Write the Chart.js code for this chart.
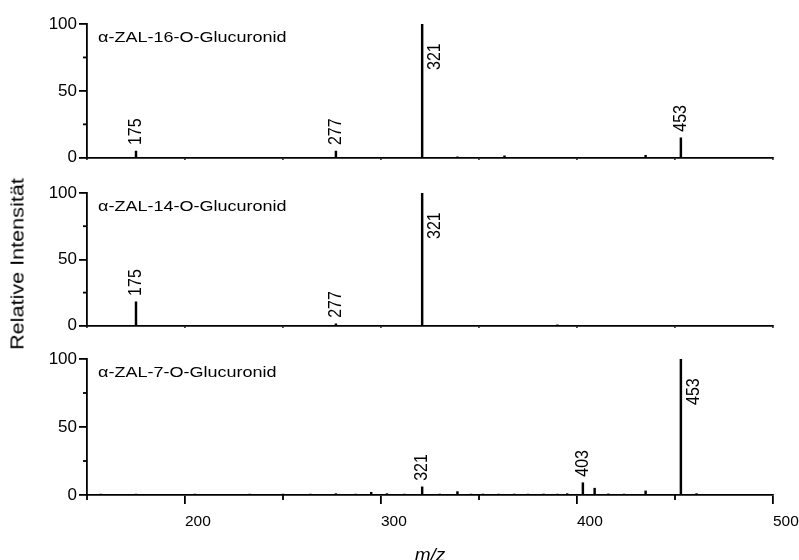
<!DOCTYPE html>
<html>
<head>
<meta charset="utf-8">
<script src="https://cdn.jsdelivr.net/npm/chart.js@4.4.1/dist/chart.umd.min.js"></script>
<style>
  html, body { margin: 0; padding: 0; background: #fff; overflow: hidden; }
  #wrap { position: relative; width: 799px; height: 560px; overflow: hidden; background: #fff; }
  canvas { position: absolute; left: 0; }
  #ylab {
    position: absolute; left: 18px; top: 264px;
    transform: translate(-50%, -50%) rotate(-90deg) scaleX(1.2);
    white-space: nowrap; line-height: 1;
    font: 18px "Liberation Sans", Arial, sans-serif; color: #000;
  }
</style>
</head>
<body>
<div id="wrap">
  <canvas id="c1" width="799" height="170" style="top:0px"></canvas>
  <canvas id="c2" width="799" height="168" style="top:170px"></canvas>
  <canvas id="c3" width="799" height="240" style="top:330px"></canvas>
  <div id="ylab">Relative Intensität</div>
</div>
<script>
// axis ticks
const xTicks = [150, 200, 250, 300, 350, 400, 450, 500];
const xMajor = [200, 300, 400, 500];
const yTicks = [0, 50, 100];
const yMinor = [25, 75];

// panel names
const names = ['α-ZAL-16-O-Glucuronid', 'α-ZAL-14-O-Glucuronid', 'α-ZAL-7-O-Glucuronid'];

// alpha-ZAL-16-O-glucuronide
const mz16 = [175, 277, 321, 339, 363, 435, 453];
const int16 = [5, 5, 100, 0.8, 1.5, 1.8, 15];
const lab16 = [175, 277, 321, 453];

// alpha-ZAL-14-O-glucuronide
const mz14 = [175, 277, 321, 390];
const int14 = [18, 1.5, 100, 0.6];
const lab14 = [175, 277, 321];

// alpha-ZAL-7-O-glucuronide
const mz7 = [157, 175, 205, 233, 250, 264, 277, 287, 295, 303, 312, 321, 330, 339, 346, 352, 360, 368, 375, 383, 390, 395, 403, 409, 416, 424, 435, 453, 461];
const int7 = [0.6, 0.6, 0.5, 0.6, 0.5, 0.6, 1, 0.6, 2, 1, 0.6, 6, 0.7, 2.5, 0.6, 0.7, 0.6, 0.7, 0.6, 0.7, 0.6, 1, 9, 5, 0.8, 0.7, 3, 100, 1];
const lab7 = [321, 403, 453];

const FONT = '"Liberation Sans", Arial, sans-serif';
Chart.defaults.font.family = FONT;
Chart.defaults.color = '#000';

const spectrumDecor = {
  id: 'spectrumDecor',
  afterDraw(chart, args, opts) {
    const { ctx, chartArea, scales: { x, y } } = chart;
    ctx.save();
    ctx.strokeStyle = '#000';
    ctx.lineWidth = 1.8;
    // minor y ticks
    yMinor.forEach(v => {
      const py = y.getPixelForValue(v);
      ctx.beginPath(); ctx.moveTo(chartArea.left - 4, py); ctx.lineTo(chartArea.left, py); ctx.stroke();
    });
    // minor x ticks on the bottom panel
    if (opts.minorX) {
      xTicks.filter(v => !xMajor.includes(v)).forEach(v => {
        const px = x.getPixelForValue(v);
        ctx.beginPath(); ctx.moveTo(px, chartArea.bottom); ctx.lineTo(px, chartArea.bottom + 5); ctx.stroke();
      });
    }
    ctx.fillStyle = '#000';
    // panel name
    ctx.font = '15px ' + FONT;
    ctx.textBaseline = 'alphabetic';
    ctx.textAlign = 'left';
    ctx.save();
    ctx.translate(chartArea.left + 11, chartArea.top + 18);
    ctx.scale(1.2, 1);
    ctx.fillText(opts.name, 0, 0);
    ctx.restore();
    // peak labels
    const pts = chart.data.datasets[0].data;
    ctx.font = '16px ' + FONT;
    opts.labels.forEach(m => {
      const pt = pts.find(d => d.x === m);
      const px = x.getPixelForValue(m);
      const py = y.getPixelForValue(pt.y);
      ctx.save();
      if (pt.y > 60) {
        ctx.translate(px + 3, chartArea.top + 46);
        ctx.rotate(-Math.PI / 2);
        ctx.scale(1, 1.2);
        ctx.textBaseline = 'top';
      } else {
        ctx.translate(px, py - 6);
        ctx.rotate(-Math.PI / 2);
        ctx.scale(1, 1.2);
        ctx.textBaseline = 'middle';
      }
      ctx.textAlign = 'left';
      ctx.fillText(String(m), 0, 0);
      ctx.restore();
    });
    ctx.restore();
  }
};

function makeSpectrum(id, mz, ints, labels, name, isBottom, padTop, xHeight) {
  return new Chart(document.getElementById(id), {
    type: 'bar',
    data: {
      datasets: [{
        data: mz.map((m, i) => ({ x: m, y: ints[i] })),
        backgroundColor: '#000',
        borderWidth: 0,
        barThickness: 1.8
      }]
    },
    options: {
      responsive: false,
      animation: false,
      layout: { padding: { top: padTop, right: 26, left: 0, bottom: 0 } },
      plugins: {
        legend: { display: false },
        tooltip: { enabled: false },
        spectrumDecor: { name: name, labels: labels, minorX: isBottom }
      },
      scales: {
        x: {
          type: 'linear', min: 150, max: 500, offset: false,
          afterBuildTicks: s => { s.ticks = xTicks.map(v => ({ value: v })); },
          afterFit: s => { s.height = xHeight; s.paddingRight = 0; },
          border: { display: true, color: '#000', width: 1.8 },
          grid: {
            drawOnChartArea: false, offset: false, color: '#000', lineWidth: 1.8,
            tickLength: isBottom ? 9 : 2,
            tickColor: c => (isBottom && c.tick && !xMajor.includes(c.tick.value)) ? 'rgba(0,0,0,0)' : '#000'
          },
          ticks: {
            display: isBottom, autoSkip: false, maxRotation: 0, color: '#000', padding: 8,
            align: 'start',
            font: { size: 15.5 },
            callback: v => xMajor.includes(v) ? String(v) : ''
          },
          title: {
            display: isBottom, text: 'm/z', color: '#000',
            font: { size: 19, style: 'italic' }, padding: { top: 0, bottom: 3 }
          }
        },
        y: {
          min: 0, max: 100,
          afterBuildTicks: s => { s.ticks = yTicks.map(v => ({ value: v })); },
          afterFit: s => { s.width = 87; },
          border: { display: true, color: '#000', width: 1.8 },
          grid: { drawOnChartArea: false, color: '#000', lineWidth: 1.8, tickLength: 8 },
          ticks: { color: '#000', padding: 2, font: { size: 17 } }
        }
      }
    },
    plugins: [spectrumDecor]
  });
}

makeSpectrum('c1', mz16, int16, lab16, names[0], false, 24, 11);
makeSpectrum('c2', mz14, int14, lab14, names[1], false, 23, 11);
makeSpectrum('c3', mz7, int7, lab7, names[2], true, 29, 75);
</script>
</body>
</html>
